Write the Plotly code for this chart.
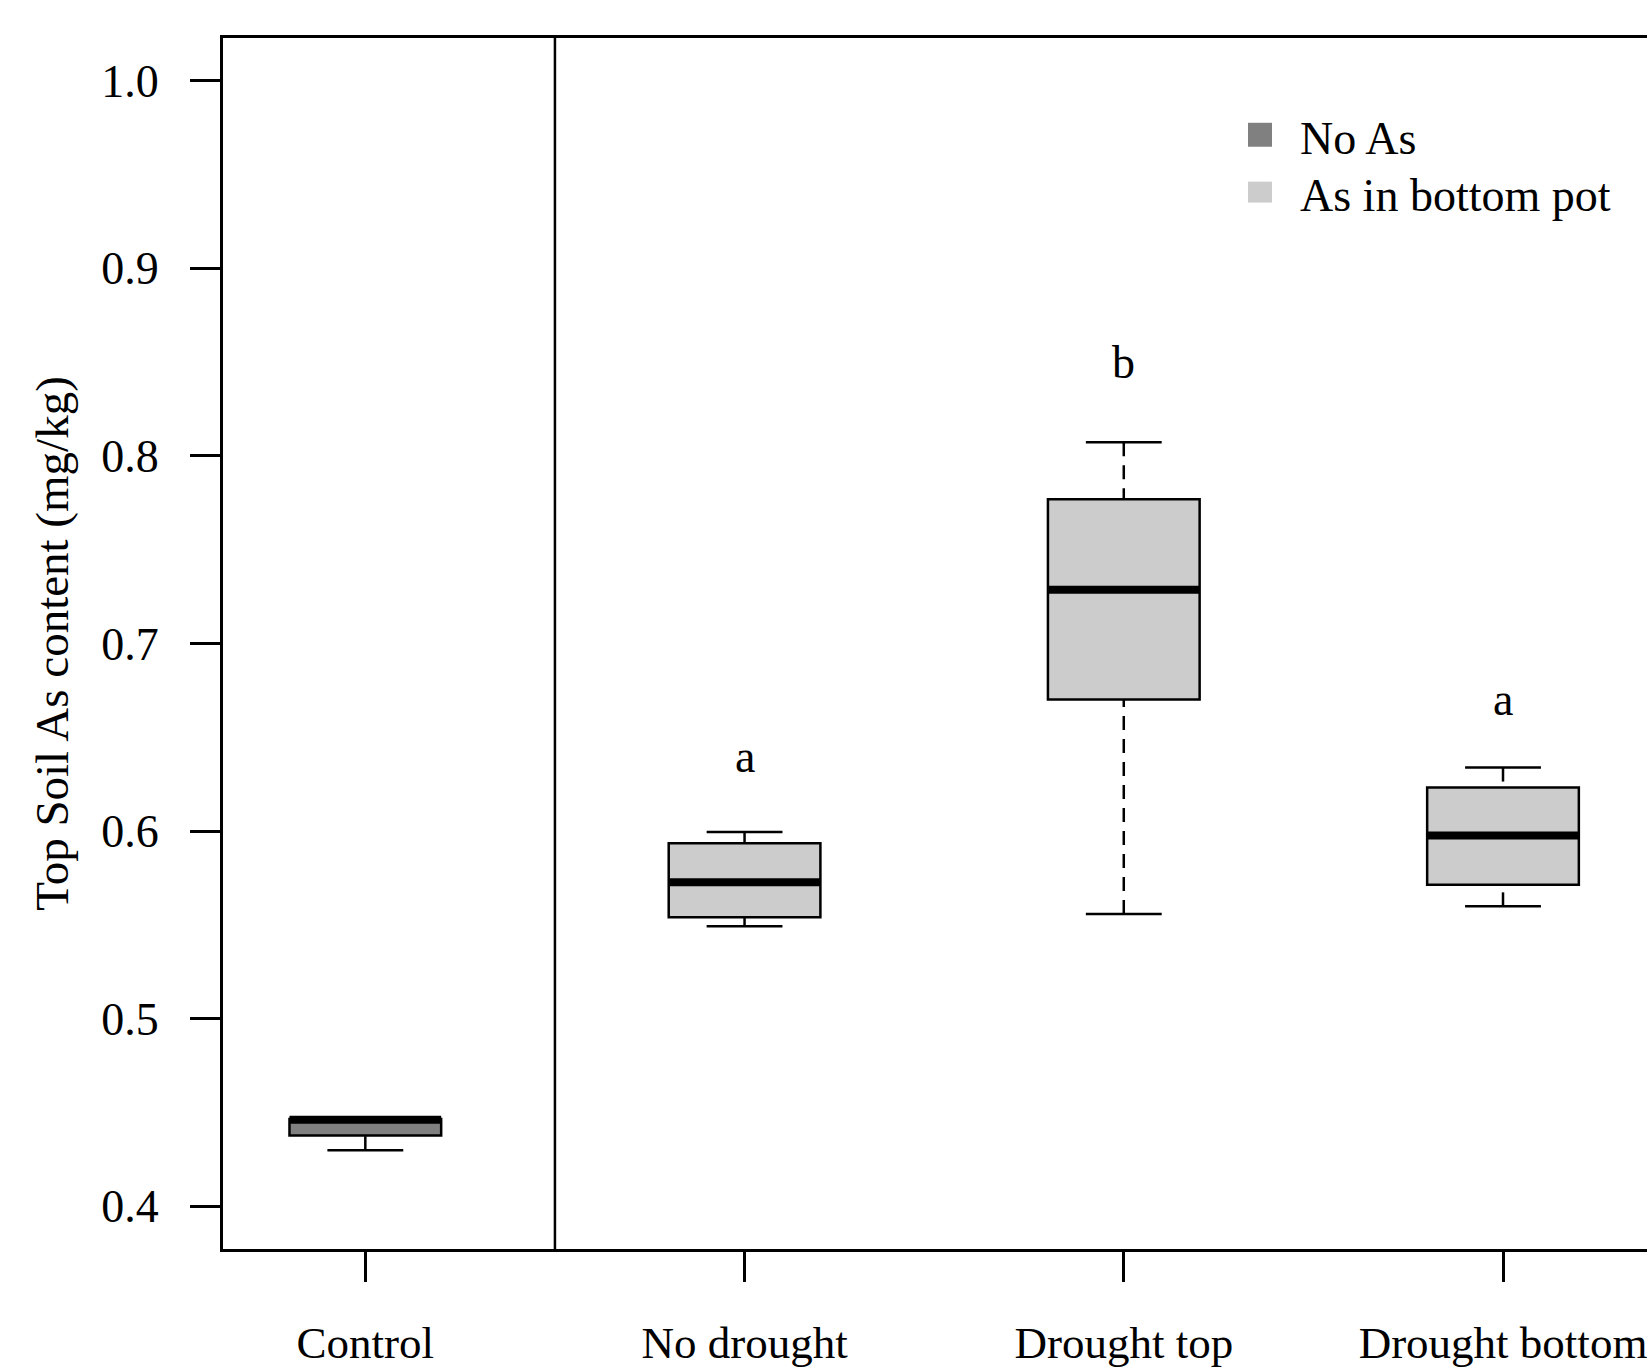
import plotly.graph_objects as go

# ---------------- data ----------------
categories = ["Control", "No drought", "Drought top", "Drought bottom"]
positions = [1, 2, 3, 4]
groups = ["No As", "As in bottom pot", "As in bottom pot", "As in bottom pot"]
lower_whisker = [0.4299, 0.5493, 0.5558, 0.5599]
q1 = [0.4377, 0.5541, 0.6702, 0.5714]
median = [0.4462, 0.5727, 0.7287, 0.5977]
q3 = [0.4465, 0.5936, 0.7769, 0.6232]
upper_whisker = [0.4465, 0.5995, 0.8073, 0.6339]
sig_letters = ["", "a", "b", "a"]
sig_letter_y = [None, 0.64, 0.85, 0.67]
y_ticks = [0.4, 0.5, 0.6, 0.7, 0.8, 0.9, 1.0]
legend_groups = ["No As", "As in bottom pot"]
group_colors = {"No As": "#808080", "As in bottom pot": "#cccccc"}

# ---------------- style ----------------
FONT = "Liberation Serif, Times New Roman, serif"
FS = 46
BOX_W = 0.4
LW = 2.5

W, H = 1647, 1368
ML, MR, MT, MB = 223, 0, 38, 116

fig = go.Figure()

# boxes (body only; whiskers drawn separately to allow dashed style)
for g in legend_groups:
    idx = [i for i, gg in enumerate(groups) if gg == g]
    fig.add_trace(go.Box(
        x=[positions[i] for i in idx],
        q1=[q1[i] for i in idx],
        median=[median[i] for i in idx],
        q3=[q3[i] for i in idx],
        lowerfence=[q1[i] for i in idx],
        upperfence=[q3[i] for i in idx],
        width=BOX_W,
        whiskerwidth=0,
        fillcolor=group_colors[g],
        line=dict(color="black", width=LW),
        boxpoints=False,
        name=g,
        showlegend=False,
        hoverinfo="skip",
    ))

# whiskers (dashed, drawn from the fence toward the box) and staples
for i, p in enumerate(positions):
    for fence, edge in ((upper_whisker[i], q3[i]), (lower_whisker[i], q1[i])):
        if abs(fence - edge) > 1e-9:
            fig.add_trace(go.Scatter(
                x=[p, p], y=[fence, edge], mode="lines",
                line=dict(color="black", width=LW, dash="14px,9px"),
                showlegend=False, hoverinfo="skip"))
            fig.add_trace(go.Scatter(
                x=[p - BOX_W / 4, p + BOX_W / 4], y=[fence, fence], mode="lines",
                line=dict(color="black", width=LW),
                showlegend=False, hoverinfo="skip"))
    # thick median
    fig.add_trace(go.Scatter(
        x=[p - BOX_W / 2, p + BOX_W / 2], y=[median[i], median[i]], mode="lines",
        line=dict(color="black", width=8),
        showlegend=False, hoverinfo="skip"))

# significance letters
for i, p in enumerate(positions):
    if sig_letters[i]:
        fig.add_annotation(x=p, y=sig_letter_y[i], text=sig_letters[i],
                           showarrow=False, xanchor="center", yanchor="middle",
                           yshift=0, font=dict(family=FONT, size=FS, color="black"))

# divider between control and treatments
fig.add_shape(type="line", x0=1.5, x1=1.5, xref="x", y0=0, y1=1, yref="paper",
              line=dict(color="black", width=LW))

# manual legend (filled squares + text)
pw = W - ML - MR
ph = H - MT - MB
def px_x(px):
    return (px - ML) / pw
def px_y(py):
    return 1 - (py - MT) / ph

legend_rows = [(123, 147, 139), (182, 203, 195.5)]
for g, (t, b, c) in zip(legend_groups, legend_rows):
    fig.add_shape(type="rect", xref="paper", yref="paper",
                  x0=px_x(1248), x1=px_x(1272), y0=px_y(b), y1=px_y(t),
                  fillcolor=group_colors[g], line=dict(width=0))
    fig.add_annotation(xref="paper", yref="paper", x=px_x(1298), y=px_y(c),
                       text=g, showarrow=False, xanchor="left", yanchor="middle",
                       font=dict(family=FONT, size=FS, color="black"))

fig.update_layout(
    width=W, height=H,
    margin=dict(l=ML, r=MR, t=MT, b=MB, pad=0),
    paper_bgcolor="white", plot_bgcolor="white",
    showlegend=False,
    boxmode="overlay",
    font=dict(family=FONT, size=FS, color="black"),
    xaxis=dict(
        range=[0.6247, 4.3797],
        tickmode="array", tickvals=positions, ticktext=categories,
        showline=True, linecolor="black", linewidth=3, mirror=True,
        ticks="outside", ticklen=30, tickwidth=2.5, tickcolor="black",
        ticklabelstandoff=22, ticklabeloverflow="allow",
        showgrid=False, zeroline=False,
        tickfont=dict(family=FONT, size=45, color="black"),
    ),
    yaxis=dict(
        range=[0.37724, 1.02282],
        tickmode="array", tickvals=y_ticks,
        ticktext=[f"{v:.1f}" for v in y_ticks],
        showline=True, linecolor="black", linewidth=3, mirror=False,
        ticks="outside", ticklen=30, tickwidth=2.5, tickcolor="black",
        ticklabelstandoff=22,
        showgrid=False, zeroline=False,
        tickfont=dict(family=FONT, size=FS, color="black"),
        title=dict(text="Top Soil As content (mg/kg)", standoff=18,
                   font=dict(family=FONT, size=47, color="black")),
    ),
)

fig.write_html(
    "out.html",
    config={"displayModeBar": False},
    post_script="document.body.style.margin='0px';document.body.style.overflow='hidden';",
)
